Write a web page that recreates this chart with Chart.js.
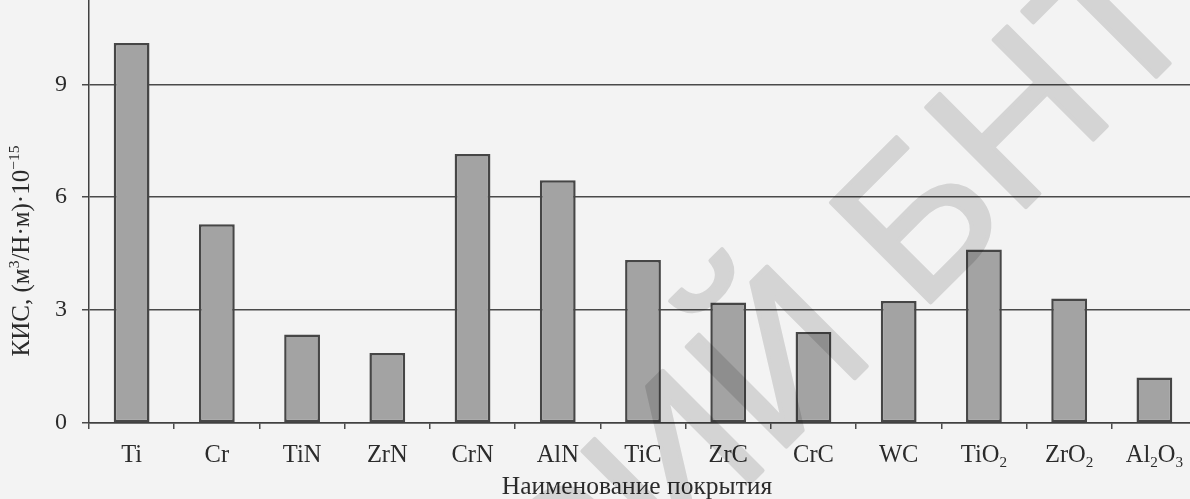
<!DOCTYPE html>
<html>
<head>
<meta charset="utf-8">
<script src="https://cdn.jsdelivr.net/npm/chart.js@4.4.1/dist/chart.umd.min.js"></script>
<style>
  html, body { margin: 0; padding: 0; overflow: hidden; width: 1190px; height: 499px; background: #f3f3f3; }
  #wrap { position: absolute; left: 0; top: 0; width: 1197px; height: 499px; }
</style>
</head>
<body>
<div id="wrap"><canvas id="c" width="1197" height="499"></canvas></div>
<script>
// Coating names along the x axis
const categories = ['Ti', 'Cr', 'TiN', 'ZrN', 'CrN', 'AlN', 'TiC', 'ZrC', 'CrC', 'WC', 'TiO₂', 'ZrO₂', 'Al₂O₃'];
// Wear intensity coefficient, (m³/N·m)·10⁻¹⁵
const wearRate = [10.1, 5.28, 2.35, 1.86, 7.15, 6.45, 4.33, 3.2, 2.42, 3.24, 4.61, 3.31, 1.21];
// Value axis
const yTicks = [0, 3, 6, 9];
const yMax = 11.24;
const yAxisTitle = 'КИС, (м³/Н·м)·10⁻¹⁵';
const xAxisTitle = 'Наименование покрытия';
const watermark = 'РЕПОЗИТОРИЙ БНТУ';

const SERIF = 'Liberation Serif';
const INK = '#2b2b2b';

// Super/subscript digits are drawn as smaller raised/lowered runs
const SUP = {'⁰':'0','¹':'1','²':'2','³':'3','⁴':'4','⁵':'5','⁶':'6','⁷':'7','⁸':'8','⁹':'9','⁻':'−'};
const SUB = {'₀':'0','₁':'1','₂':'2','₃':'3','₄':'4','₅':'5','₆':'6','₇':'7','₈':'8','₉':'9'};

function splitRuns(text) {
  const out = [];
  for (const ch of text) {
    const kind = SUP[ch] ? 'sup' : (SUB[ch] ? 'sub' : 'n');
    const c = SUP[ch] || SUB[ch] || ch;
    const last = out[out.length - 1];
    if (last && last.kind === kind) last.t += c; else out.push({ kind, t: c });
  }
  return out;
}

function drawRich(ctx, text, x, y, size, align) {
  const runs = splitRuns(text);
  const small = size * 0.62;
  let total = 0;
  runs.forEach(r => {
    r.size = r.kind === 'n' ? size : small;
    ctx.font = r.size + 'px "' + SERIF + '"';
    r.w = ctx.measureText(r.t).width;
    total += r.w;
  });
  let cx = align === 'center' ? x - total / 2 : (align === 'right' ? x - total : x);
  ctx.textAlign = 'left';
  ctx.textBaseline = 'alphabetic';
  runs.forEach(r => {
    ctx.font = r.size + 'px "' + SERIF + '"';
    const dy = r.kind === 'sup' ? -size * 0.4 : (r.kind === 'sub' ? size * 0.2 : 0);
    ctx.fillText(r.t, cx, y + dy);
    cx += r.w;
  });
  return total;
}

// Diagonal stamp, rendered on its own layer then multiplied over the chart
function stampLayer(w, h) {
  const off = document.createElement('canvas');
  off.width = w; off.height = h;
  const g = off.getContext('2d');
  const size = 205;
  g.font = size + 'px "Liberation Sans"';
  const lead = g.measureText('РЕПОЗИТОРИЙ Б').width + 0.076 * size;
  const ang = -Math.PI / 4;
  const ux = Math.cos(ang), uy = Math.sin(ang);
  const px = 1025, py = 208;
  g.translate(px - lead * ux, py - lead * uy);
  g.rotate(ang);
  g.textAlign = 'left';
  g.textBaseline = 'alphabetic';
  g.fillStyle = '#dfdfdf';
  g.strokeStyle = '#dfdfdf';
  g.lineWidth = 4;
  g.lineJoin = 'round';
  g.fillText(watermark, 0, 0);
  g.strokeText(watermark, 0, 0);
  return off;
}

const pagePlugin = {
  id: 'page',
  beforeDraw(chart) {
    const ctx = chart.ctx;
    ctx.save();
    ctx.fillStyle = '#f3f3f3';
    ctx.fillRect(0, 0, chart.width, chart.height);
    ctx.restore();
  },
  afterDraw(chart) {
    const ctx = chart.ctx;
    const xs = chart.scales.x;
    ctx.save();
    ctx.fillStyle = INK;
    // category labels
    categories.forEach((name, i) => {
      drawRich(ctx, name, xs.getPixelForValue(i), 462, 24.5, 'center');
    });
    // axis titles
    drawRich(ctx, xAxisTitle, 637, 494, 25.5, 'center');
    ctx.save();
    ctx.translate(29, 251);
    ctx.rotate(-Math.PI / 2);
    drawRich(ctx, yAxisTitle, 0, 0, 25, 'center');
    ctx.restore();

    ctx.globalCompositeOperation = 'multiply';
    ctx.drawImage(stampLayer(chart.width, chart.height), 0, 0);
    ctx.restore();
  }
};

new Chart(document.getElementById('c'), {
  type: 'bar',
  data: {
    labels: categories,
    datasets: [{
      data: wearRate,
      backgroundColor: '#a3a3a3',
      borderColor: '#464646',
      borderWidth: 2.5,
      borderSkipped: false,
      categoryPercentage: 1,
      barPercentage: 0.42
    }]
  },
  options: {
    responsive: false,
    animation: false,
    devicePixelRatio: 1,
    layout: { padding: 0 },
    plugins: { legend: { display: false }, tooltip: { enabled: false } },
    scales: {
      x: {
        grid: { drawOnChartArea: false, drawTicks: true, tickLength: 6, color: '#4a4a4a', lineWidth: 1.5, offset: true },
        border: { display: true, color: '#404040', width: 1.5 },
        ticks: { display: false },
        afterFit(s) { s.height = 76; s.paddingLeft = 0; s.paddingRight = 0; }
      },
      y: {
        min: 0,
        max: yMax,
        afterBuildTicks(s) { s.ticks = yTicks.map(v => ({ value: v })); },
        grid: { color: '#4a4a4a', lineWidth: 1.5, tickLength: 7, drawTicks: true },
        border: { display: true, color: '#404040', width: 1.5 },
        ticks: { font: { family: SERIF, size: 24 }, color: INK, padding: 15 },
        afterFit(s) { s.width = 89; s.paddingTop = 0; s.paddingBottom = 0; }
      }
    }
  },
  plugins: [pagePlugin]
});
</script>
</body>
</html>
